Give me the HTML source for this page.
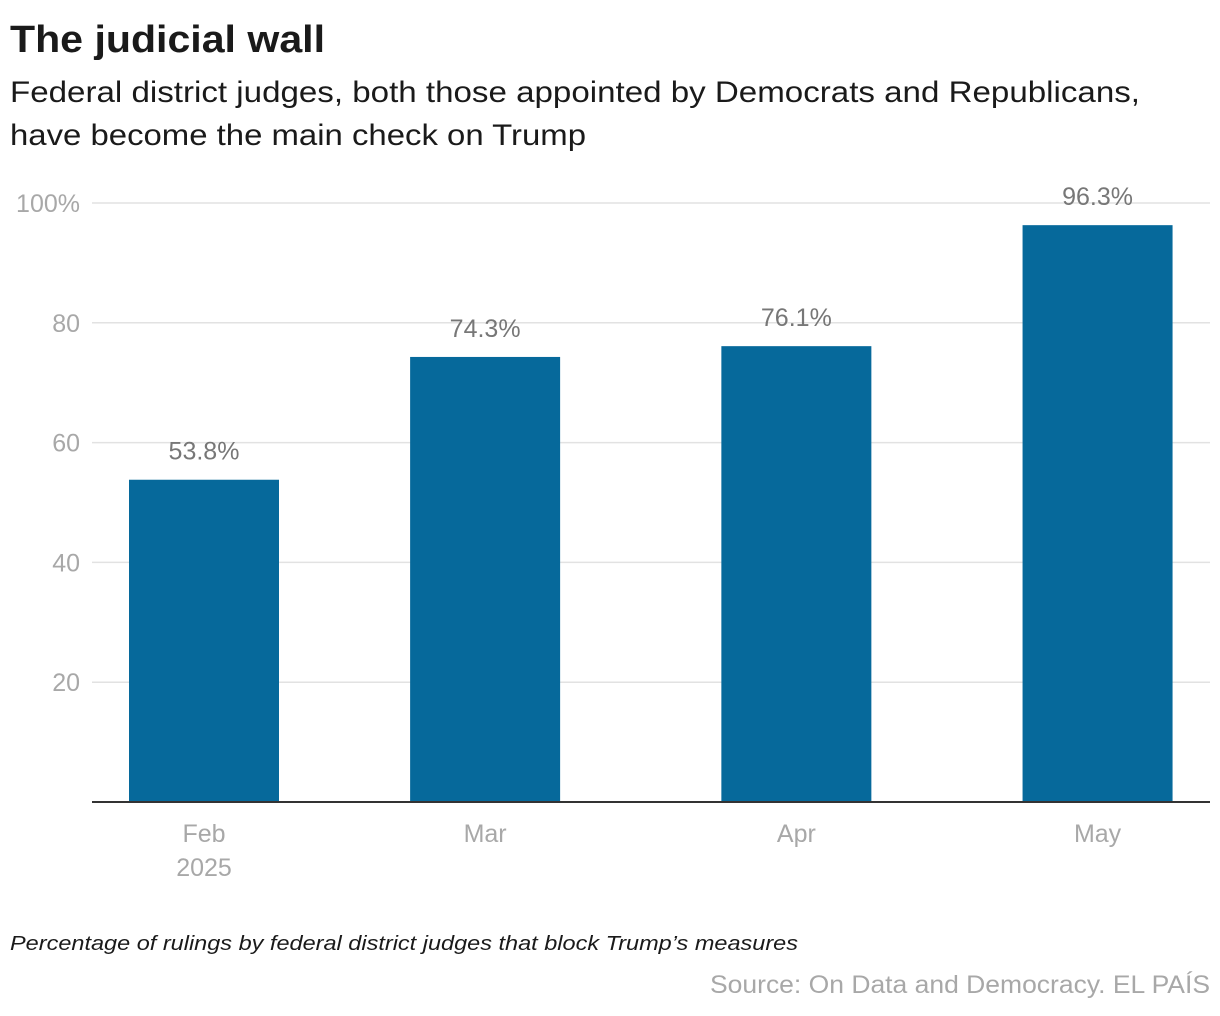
<!DOCTYPE html>
<html><head><meta charset="utf-8"><style>
html,body{margin:0;padding:0;background:#fff;}
svg{display:block;font-family:"Liberation Sans",Arial,sans-serif;}
</style></head><body>
<svg id="chart" width="1220" height="1016" viewBox="0 0 1220 1016">
<text x="10" y="52" font-size="38" font-weight="bold" fill="#1a1a1a" textLength="315" lengthAdjust="spacingAndGlyphs">The judicial wall</text>
<text x="10" y="102" font-size="30" fill="#1a1a1a" textLength="1130" lengthAdjust="spacingAndGlyphs">Federal district judges, both those appointed by Democrats and Republicans,</text>
<text x="10" y="145" font-size="30" fill="#1a1a1a" textLength="576" lengthAdjust="spacingAndGlyphs">have become the main check on Trump</text>
<g id="grid"></g>
<g id="bars"></g>
<line x1="92" x2="1210" y1="802" y2="802" stroke="#333" stroke-width="2"/>
<text x="10" y="950" font-size="20" font-style="italic" fill="#1a1a1a" textLength="788" lengthAdjust="spacingAndGlyphs">Percentage of rulings by federal district judges that block Trump’s measures</text>
<text x="1210" y="993" font-size="25" fill="#a8a8a8" text-anchor="end" textLength="500" lengthAdjust="spacingAndGlyphs">Source: On Data and Democracy. EL PAÍS</text>
</svg>
<script>
const months = ["Feb","Mar","Apr","May"];
const yearLabels = ["2025","","",""];
const dayOffsets = [0,28,59,89];
const values = [53.8,74.3,76.1,96.3];
const valueLabels = ["53.8%","74.3%","76.1%","96.3%"];
const yTicks = [20,40,60,80,100];
const yTickLabels = ["20","40","60","80","100%"];

const NS="http://www.w3.org/2000/svg";
const y = v => 802 - v*5.99;
const x = d => 204 + d*10.04;
const barW = 150;
const grid=document.getElementById('grid');
const bars=document.getElementById('bars');
function mk(tag,attrs,parent){const e=document.createElementNS(NS,tag);for(const k in attrs)e.setAttribute(k,attrs[k]);parent.appendChild(e);return e;}
yTicks.forEach((t,i)=>{
  const l=mk('line',{x1:92,x2:1210,y1:y(t),y2:y(t),stroke:'#e2e2e2','stroke-width':1.5},grid);
  
  
  const tx=mk('text',{x:80,y:y(t)+9,'font-size':25,fill:'#a8a8a8','text-anchor':'end'},grid);
  tx.textContent=yTickLabels[i];
  
  
});
months.forEach((m,i)=>{
  const cx=x(dayOffsets[i]);
  const r=mk('rect',{x:cx-barW/2,y:y(values[i]),width:barW,height:802-y(values[i]),fill:'#06699b'},bars);
  
  
  const vl=mk('text',{x:cx,y:y(values[i])-20,'font-size':25,fill:'#777','text-anchor':'middle'},bars);
  vl.textContent=valueLabels[i];
  
  
  const ml=mk('text',{x:cx,y:842,'font-size':25,fill:'#a8a8a8','text-anchor':'middle'},bars);
  ml.textContent=m;
  
  
  if(yearLabels[i]){
    const yl=mk('text',{x:cx,y:876,'font-size':25,fill:'#a8a8a8','text-anchor':'middle'},bars);
    yl.textContent=yearLabels[i];
    
    
  }
});
</script>
</body></html>
